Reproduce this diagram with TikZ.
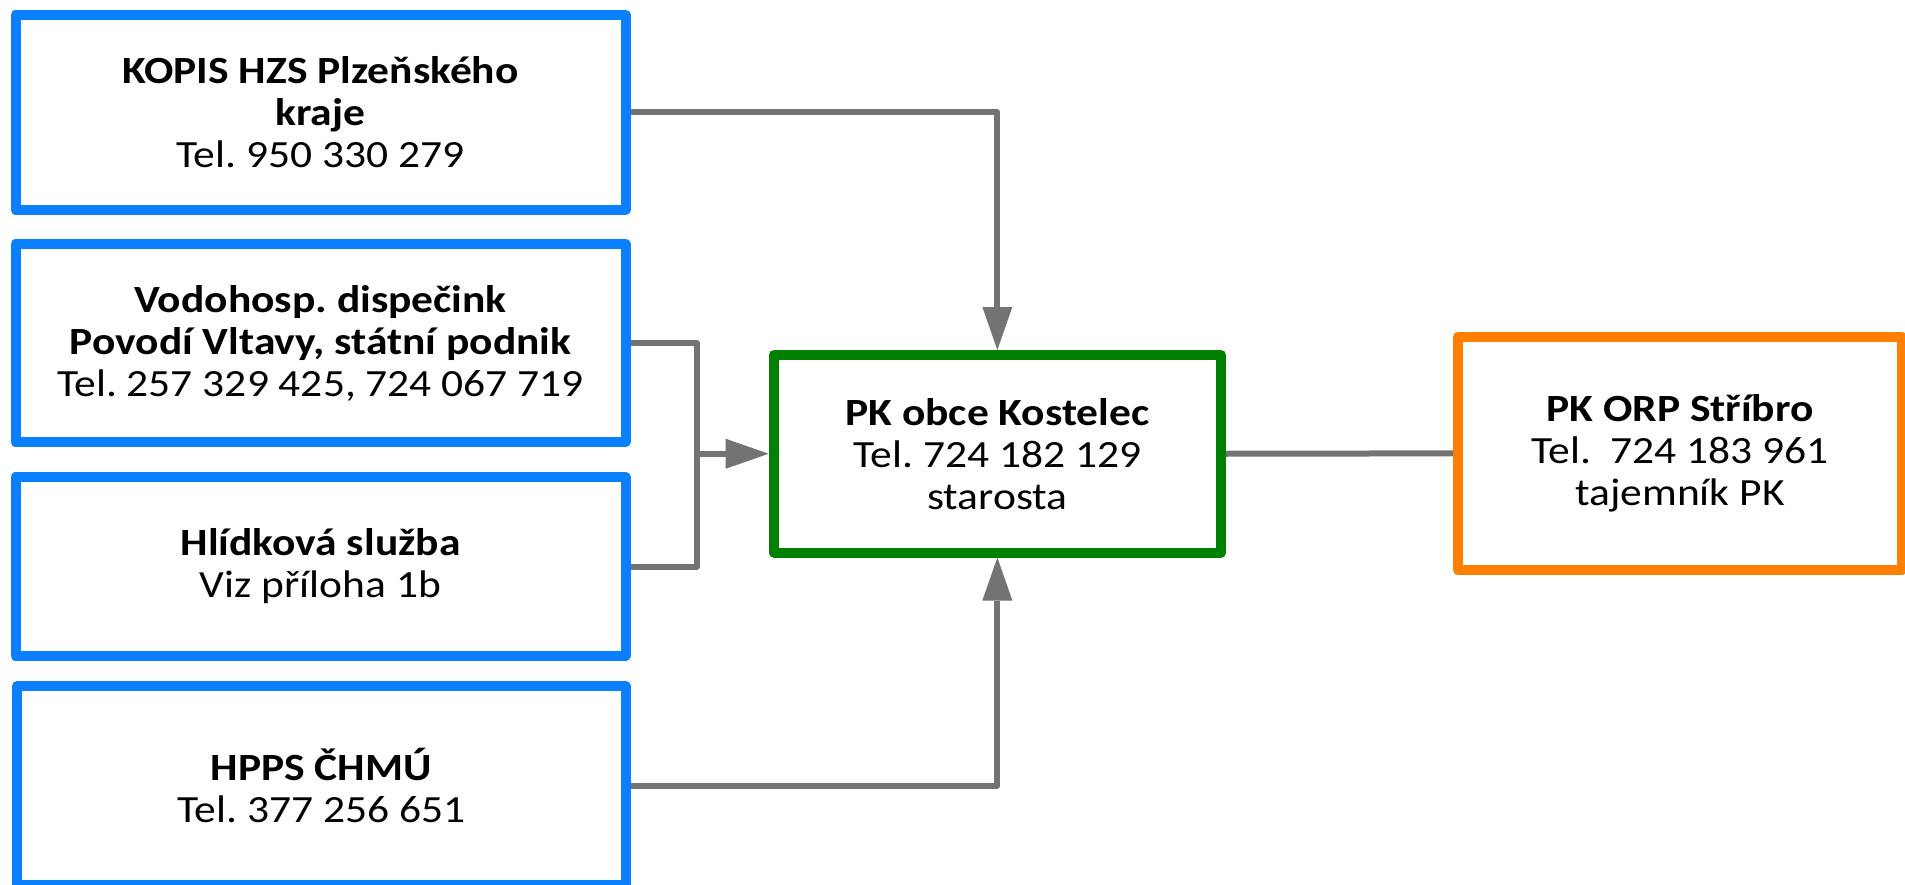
\documentclass[tikz,border=0pt]{standalone}
\usepackage{fontspec}
\setmainfont{Carlito}[FakeStretch=1.13]
\usetikzlibrary{arrows.meta}
\definecolor{bluecol}{RGB}{10,128,255}
\definecolor{greencol}{RGB}{0,128,0}
\definecolor{orangecol}{RGB}{255,128,0}
\definecolor{conncol}{RGB}{115,115,115}
\tikzset{
  box/.style={draw, line width=10pt, line join=round, align=center, inner sep=0pt,
              fill=white, font=\fontsize{38.5}{42}\selectfont},
  srcbox/.style={box, draw=bluecol},
  centerbox/.style={box, draw=greencol},
  destbox/.style={box, draw=orangecol},
  conn/.style={draw=conncol, line width=6pt, line join=round},
  arr/.style={conn, -{Triangle[length=43pt,width=30pt,line width=0pt]}}
}
\begin{document}
\frenchspacing
\begin{tikzpicture}[x=1pt,y=-1pt]
  \fill[white] (0,0) rectangle (1905,885);
  \useasboundingbox (0,0) rectangle (1905,885);

  \node[srcbox, minimum width=610pt, minimum height=195pt] (b1) at (320.5,112.2)
    {\textbf{KOPIS HZS Plzeňského}\\\textbf{kraje}\\Tel. 950 330 279};
  \node[srcbox, minimum width=610pt, minimum height=197.7pt] (b2) at (320.5,343.2)
    {\textbf{Vodohosp. dispečink}\\\textbf{Povodí Vltavy, státní podnik}\\Tel. 257 329 425, 724 067 719};
  \node[srcbox, minimum width=610pt, minimum height=179pt] (b3) at (320.5,566.5)
    {\textbf{Hlídková služba}\\Viz příloha 1b};
  \node[srcbox, minimum width=608.5pt, minimum height=199pt] (b4) at (321.25,785.5)
    {\textbf{HPPS ČHMÚ}\\Tel. 377 256 651};

  \node[centerbox, minimum width=447.3pt, minimum height=197.5pt] (g) at (997.35,453.75)
    {\textbf{PK obce Kostelec}\\Tel. 724 182 129\\starosta};
  \node[destbox, minimum width=444pt, minimum height=233.3pt] (o) at (1680,453.35)
    {\textbf{PK ORP Stříbro}\\Tel.\ \ 724 183 961\\tajemník PK};

  \coordinate (jx) at (697,0);

  \draw[arr] (b1.east) -| (g.north);
  \draw[arr] (b4.east) -| (g.south);
  \draw[conn] (b2.east) -- (b2.east -| jx) -- (b3.east -| jx) -- (b3.east);
  \draw[arr] (g.west -| jx) -- (g.west);
  \draw[conn] (g.east) -- (o.west);
\end{tikzpicture}
\end{document}
